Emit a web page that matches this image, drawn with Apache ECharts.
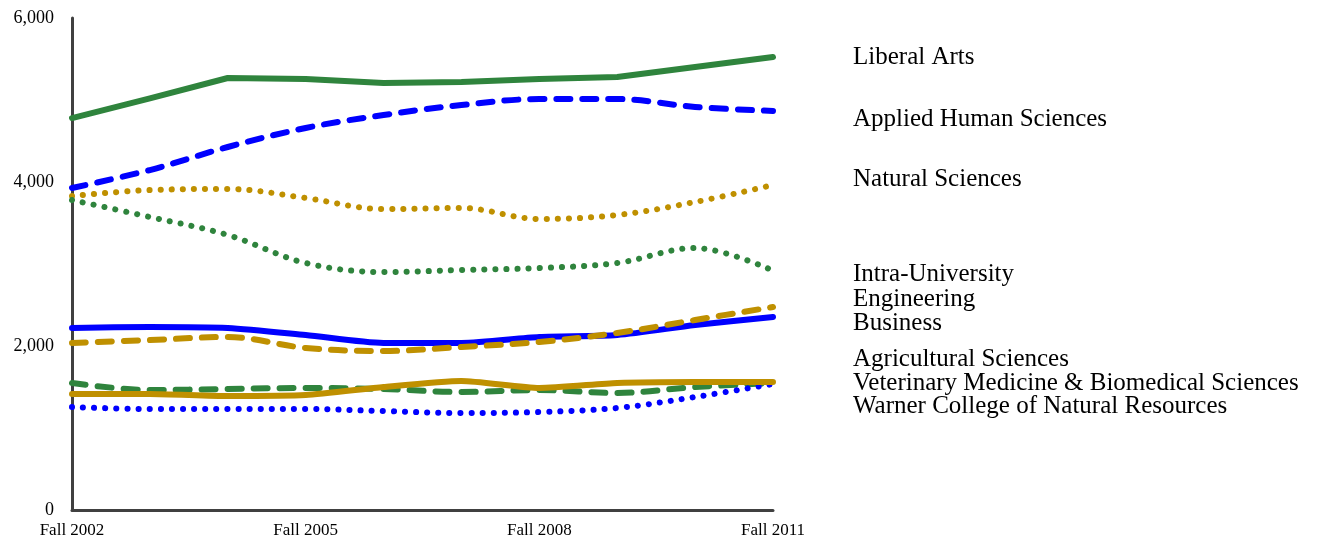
<!DOCTYPE html>
<html>
<head>
<meta charset="utf-8">
<script src="https://cdn.jsdelivr.net/npm/echarts@6/dist/echarts.min.js"></script>
<style>
html,body{margin:0;padding:0;background:#fff;}
#chart{width:1318px;height:539px;}
</style>
</head>
<body>
<div id="chart"></div>
<script>
const categories = ['Fall 2002','Fall 2003','Fall 2004','Fall 2005','Fall 2006','Fall 2007','Fall 2008','Fall 2009','Fall 2010','Fall 2011'];
const yTicks = [0, 2000, 4000, 6000];

const liberalArts   = [4780, 5020, 5268, 5256, 5207, 5220, 5256, 5280, 5402, 5524];
const appliedHuman  = [3927, 4146, 4427, 4659, 4817, 4939, 5012, 5012, 4915, 4866];
const naturalSci    = [3829, 3902, 3915, 3805, 3670, 3683, 3549, 3598, 3756, 3963];
const intraUniv     = [3780, 3573, 3354, 3012, 2902, 2927, 2951, 3012, 3195, 2920];
const engineering   = [2037, 2073, 2110, 1976, 1939, 1988, 2049, 2159, 2317, 2476];
const business      = [2220, 2232, 2220, 2134, 2037, 2037, 2110, 2134, 2256, 2354];
const agricultural  = [1415, 1415, 1390, 1402, 1500, 1573, 1488, 1549, 1561, 1561];
const veterinary    = [1549, 1463, 1476, 1488, 1476, 1439, 1463, 1427, 1500, 1549];
const warner        = [1256, 1232, 1232, 1232, 1207, 1183, 1195, 1244, 1378, 1537];

const seriesNames = ['Liberal Arts','Applied Human Sciences','Natural Sciences','Intra-University','Engineering','Business','Agricultural Sciences','Veterinary Medicine & Biomedical Sciences','Warner College of Natural Resources'];

const GREEN = '#2F843D', BLUE = '#0000FF', GOLD = '#BF9000';
const DASH = [14, 12], DOT = [0.1, 11];

function mk(name, data, color, type, smooth, z) {
  return {
    name, type: 'line', data, smooth, z,
    showSymbol: false, symbol: 'none',
    lineStyle: { color, width: 6, type, cap: 'round', join: 'round' },
    emphasis: { disabled: true }
  };
}

const series = [
  mk(seriesNames[0], liberalArts, GREEN, 'solid', false, 2),
  mk(seriesNames[1], appliedHuman, BLUE, DASH, 0.35, 2),
  mk(seriesNames[2], naturalSci, GOLD, DOT, 0.35, 2),
  mk(seriesNames[3], intraUniv, GREEN, DOT, 0.35, 2),
  mk(seriesNames[5], business, BLUE, 'solid', 0.25, 2),
  mk(seriesNames[4], engineering, GOLD, DASH, 0.35, 3),
  mk(seriesNames[7], veterinary, GREEN, DASH, 0.35, 2),
  mk(seriesNames[8], warner, BLUE, DOT, 0.35, 2),
  mk(seriesNames[6], agricultural, GOLD, 'solid', 0.2, 3)
];

const labelY = [56, 118, 178, 273, 298, 322, 358, 382, 405];
const graphic = seriesNames.map((n, i) => ({
  type: 'text', left: 853, top: labelY[i] - 11,
  style: { text: n, font: '25px "Liberation Serif", serif', fill: '#000' }
}));

const chart = echarts.init(document.getElementById('chart'), null, { renderer: 'canvas' });
chart.setOption({
  animation: false,
  backgroundColor: '#fff',
  grid: { left: 72, right: 545, top: 18, bottom: 29, containLabel: false },
  xAxis: {
    type: 'category', data: categories, boundaryGap: false,
    axisLine: { lineStyle: { color: '#404040', width: 3 } },
    axisTick: { show: false },
    axisLabel: { interval: 2, color: '#000', fontFamily: '"Liberation Serif", serif', fontSize: 17, margin: 12, showMaxLabel: true, showMinLabel: true }
  },
  yAxis: {
    type: 'value', min: yTicks[0], max: yTicks[yTicks.length - 1], interval: 2000,
    axisLine: { show: true, lineStyle: { color: '#404040', width: 3 } },
    axisTick: { show: false },
    splitLine: { show: false },
    axisLabel: {
      color: '#000', fontFamily: '"Liberation Serif", serif', fontSize: 18, margin: 18,
      formatter: v => v.toLocaleString('en-US')
    }
  },
  graphic,
  series
});
</script>
</body>
</html>
